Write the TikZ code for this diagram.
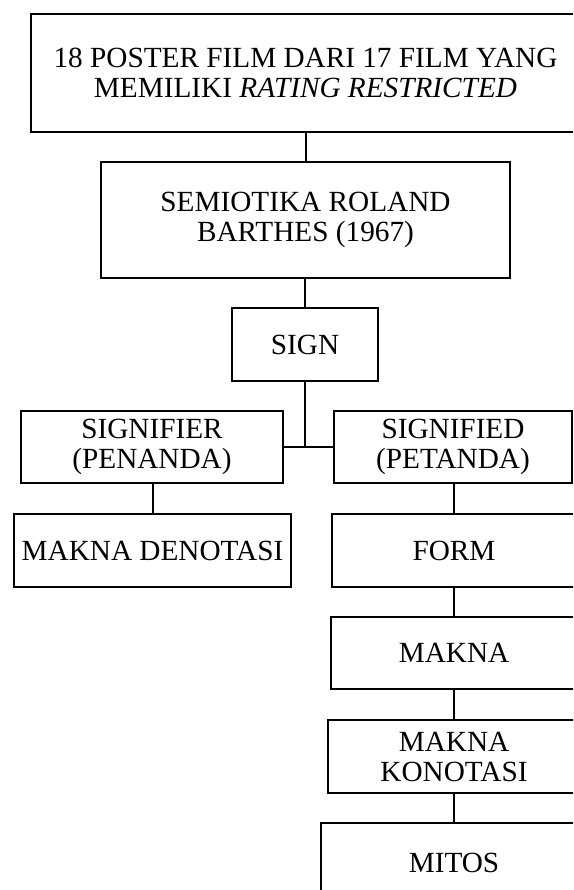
\documentclass[tikz,border=0pt]{standalone}
\usepackage{fontspec}
\setmainfont{Liberation Serif}
\tikzset{kotak/.style={draw,line width=0.8pt,rectangle,align=center,inner sep=0pt,font=\fontsize{11.7pt}{12pt}\selectfont}}

\begin{document}
\begin{tikzpicture}[x=0.4pt,y=-0.4pt,line width=0.8pt]
\useasboundingbox (0,0) rectangle (573,890);
\clip (0,0) rectangle (573,890);
\node[kotak,minimum width=219.6pt,minimum height=47.2pt] (poster) at (305.5,73) {18 POSTER FILM DARI 17 FILM YANG\\MEMILIKI \textit{RATING RESTRICTED}};
\node[kotak,minimum width=163.6pt,minimum height=46.4pt] (semiotika) at (305.5,220) {SEMIOTIKA ROLAND\\BARTHES (1967)};
\node[kotak,minimum width=58.4pt,minimum height=29.2pt] (sign) at (305,344.5) {SIGN};
\node[kotak,minimum width=104.8pt,minimum height=28.8pt] (penanda) at (152,447) {SIGNIFIER\\(PENANDA)};
\node[kotak,minimum width=95.2pt,minimum height=28.8pt] (petanda) at (453,447) {SIGNIFIED\\(PETANDA)};
\node[kotak,minimum width=110.8pt,minimum height=29.2pt] (denotasi) at (152.5,550.5) {MAKNA DENOTASI};
\node[kotak,minimum width=97.6pt,minimum height=29.2pt] (form) at (454,550.5) {FORM};
\node[kotak,minimum width=98.4pt,minimum height=28.8pt] (makna) at (454,653) {MAKNA};
\node[kotak,minimum width=100.8pt,minimum height=29.2pt] (konotasi) at (454,756.5) {MAKNA\\KONOTASI};
\node[kotak,minimum width=106.4pt,minimum height=32pt] (mitos) at (454,863) {MITOS};

\draw (semiotika.north) -- (semiotika.north |- poster.south);
\draw (sign.north) -- (sign.north |- semiotika.south);
\draw (sign.south) -- (sign.south |- penanda.east);
\draw (penanda.east) -- (petanda.west);
\draw (denotasi.north) -- (denotasi.north |- penanda.south);
\draw (form.north) -- (form.north |- petanda.south);
\draw (form.south) -- (makna.north);
\draw (makna.south) -- (konotasi.north);
\draw (konotasi.south) -- (mitos.north);
\end{tikzpicture}
\end{document}
